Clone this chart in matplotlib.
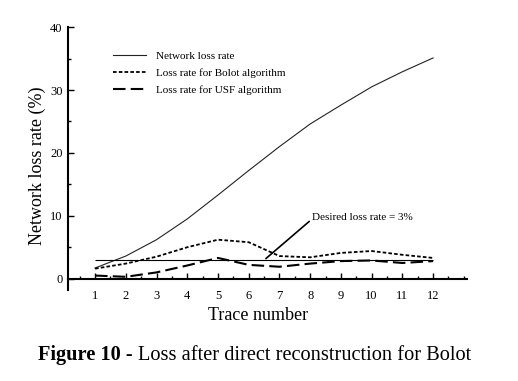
import numpy as np
import matplotlib
matplotlib.use('Agg')
import matplotlib.pyplot as plt
from matplotlib.ticker import MultipleLocator

plt.rcParams['font.family'] = ['Liberation Serif', 'DejaVu Serif']

# data
traces = [1, 2, 3, 4, 5, 6, 7, 8, 9, 10, 11, 12]
network_loss = [1.7, 3.6, 6.2, 9.5, 13.3, 17.2, 21.0, 24.6, 27.6, 30.5, 32.9, 35.1]
bolot_loss = [1.6, 2.4, 3.5, 5.0, 6.2, 5.8, 3.6, 3.4, 4.1, 4.4, 3.8, 3.3]
usf_loss = [0.5, 0.3, 1.0, 2.1, 3.3, 2.2, 1.9, 2.4, 2.8, 2.9, 2.5, 2.8]
desired_rate = 3
x_ticks = list(range(1, 13))
y_ticks = [0, 10, 20, 30, 40]

fig = plt.figure(figsize=(5.18, 3.81), dpi=100)
ax = fig.add_axes([0.1313, 0.2388, 0.770, 0.690])

ax.plot(traces, network_loss, '-', color='#222222', linewidth=0.8,
        label='Network loss rate')
ax.plot(traces, bolot_loss, color='black', linewidth=1.3,
        dashes=(2, 1.2), label='Loss rate for Bolot algorithm')
ax.plot(traces, usf_loss, color='black', linewidth=1.5,
        dashes=(6, 2.5), label='Loss rate for USF algorithm')

# desired loss rate reference line
ax.hlines(desired_rate, traces[0], traces[-1], color='black', linewidth=0.8)
ax.annotate('Desired loss rate = 3%', xy=(6.56, desired_rate + 0.2),
            xytext=(8.06, 9.7), ha='left', va='center', fontsize=8,
            arrowprops=dict(arrowstyle='-', color='black', lw=1.2,
                            shrinkA=0, shrinkB=0, relpos=(0, 0.35)))

ax.set_xlim(0.12, 13.1)
ax.set_ylim(-1.8, 40)

# axes styling
ax.spines['top'].set_visible(False)
ax.spines['right'].set_visible(False)
ax.spines['bottom'].set_position(('data', 0))
ax.spines['bottom'].set_linewidth(1.5)
ax.spines['left'].set_linewidth(1.5)

ax.set_xticks(x_ticks)
ax.set_yticks(y_ticks)
ax.xaxis.set_minor_locator(MultipleLocator(0.5))
ax.yaxis.set_minor_locator(MultipleLocator(5))
ax.tick_params(axis='x', which='major', direction='in', length=4, width=1,
               pad=8, labelsize=9)
ax.tick_params(axis='x', which='minor', direction='in', length=2.5, width=1)
ax.tick_params(axis='y', which='major', direction='in', length=4, width=1,
               pad=4, labelsize=9)
ax.tick_params(axis='y', which='minor', direction='in', length=2.5, width=1)

# Make a legend
ax.legend(loc='upper left', bbox_to_anchor=(0.1025, 0.924), frameon=False,
          fontsize=8, handlelength=2.9, handletextpad=0.9, labelspacing=0.62,
          borderaxespad=0)

fig.text(258 / 518, 1 - 316 / 381, 'Trace number', ha='center', va='center',
         fontsize=13)
fig.text(37 / 518, 1 - 166 / 381, 'Network loss rate (%)', ha='center',
         va='center', rotation=90, fontsize=13)

# caption: bold part followed by regular part
bold = fig.text(38 / 518, 1 - 355 / 381, 'Figure 10 - ', ha='left',
                va='center', fontsize=14.7, fontweight='bold')
fig.canvas.draw()
bb = bold.get_window_extent()
fig.text(bb.x1 / fig.bbox.width, 1 - 355 / 381,
         'Loss after direct reconstruction for Bolot', ha='left',
         va='center', fontsize=14.7)

fig.savefig('out.png', dpi=100)
